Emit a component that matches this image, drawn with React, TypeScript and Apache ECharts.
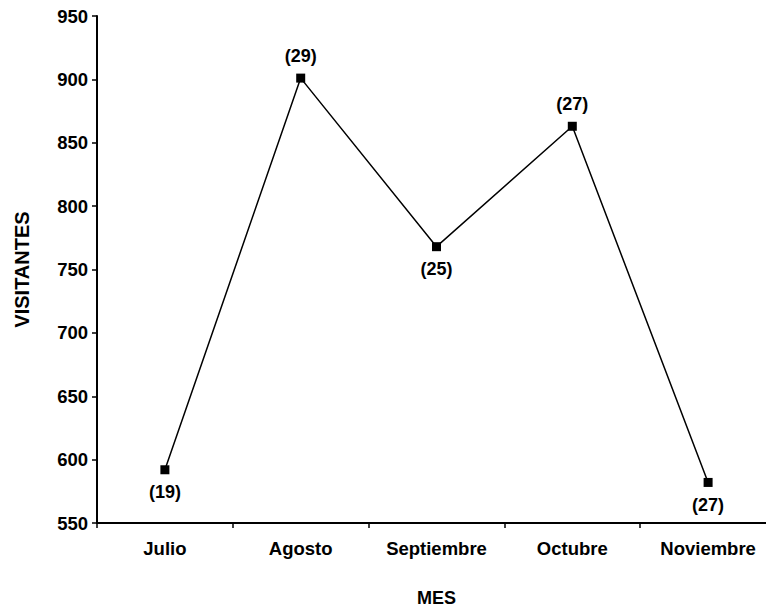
import React, { useEffect, useRef } from "react";
import * as echarts from "echarts";

const categories = ["Julio", "Agosto", "Septiembre", "Octubre", "Noviembre"];
const visitors = [592, 901, 768, 863, 582];
const countLabels = ["(19)", "(29)", "(25)", "(27)", "(27)"];
const labelPositions = ["bottom", "top", "bottom", "top", "bottom"];

const FONT = "Liberation Sans, Arial, sans-serif";

export default function App() {
  const ref = useRef<HTMLDivElement>(null);
  useEffect(() => {
    if (!ref.current) return;
    const chart = echarts.init(ref.current, null, { renderer: "svg" });
    chart.setOption({
      animation: false,
      backgroundColor: "#ffffff",
      grid: {
        left: 97,
        top: 16,
        height: 507,
        width: 679,
        containLabel: false,
        outerBoundsMode: "none",
      },
      xAxis: {
        type: "category",
        data: categories,
        boundaryGap: true,
        name: "MES",
        nameLocation: "middle",
        nameGap: 66,
        nameTextStyle: { fontFamily: FONT, fontWeight: "bold", fontSize: 18, color: "#000" },
        axisLine: { lineStyle: { color: "#000", width: 2 } },
        axisTick: { show: true, length: 5, inside: false, lineStyle: { color: "#000", width: 1.5 } },
        axisLabel: { margin: 16, fontFamily: FONT, fontWeight: "bold", fontSize: 18.5, color: "#000" },
        splitLine: { show: false },
      },
      yAxis: {
        type: "value",
        min: 550,
        max: 950,
        interval: 50,
        name: "VISITANTES",
        nameLocation: "middle",
        nameRotate: 90,
        nameGap: 65,
        nameTextStyle: { fontFamily: FONT, fontWeight: "bold", fontSize: 20, color: "#000" },
        axisLine: { show: true, lineStyle: { color: "#000", width: 2 } },
        axisTick: { show: true, length: 5, lineStyle: { color: "#000", width: 1.5 } },
        axisLabel: { margin: 9, fontFamily: FONT, fontWeight: "bold", fontSize: 18.5, color: "#000" },
        splitLine: { show: false },
      },
      series: [
        {
          type: "line",
          data: visitors.map((v, i) => ({
            value: v,
            label: { position: labelPositions[i] as any },
          })),
          symbol: "rect",
          symbolSize: 9,
          lineStyle: { color: "#000", width: 1.5 },
          itemStyle: { color: "#000" },
          label: {
            show: true,
            distance: 9,
            fontFamily: FONT,
            fontWeight: "bold",
            fontSize: 18,
            color: "#000",
            formatter: (p: any) => countLabels[p.dataIndex],
          },
        },
      ],
    });
    return () => chart.dispose();
  }, []);
  return (
    <div
      ref={ref}
      style={{ position: "absolute", left: 0, top: 0, width: 766, height: 607, overflow: "hidden" }}
    />
  );
}
